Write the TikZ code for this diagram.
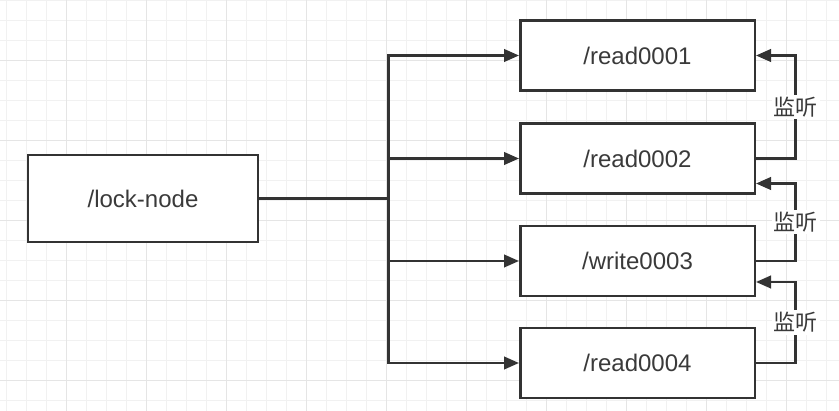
\documentclass[tikz,border=0pt]{standalone}
\usepackage{fontspec}
\setmainfont{Liberation Sans}
\newfontfamily\cjkfont{Noto Sans CJK SC}
\usetikzlibrary{arrows.meta,calc}

\definecolor{ink}{HTML}{333333}
\definecolor{label}{HTML}{3A3A3A}
\definecolor{gridminor}{HTML}{F1F1F1}
\definecolor{gridmajor}{HTML}{E5E5E5}

\tikzset{
  box/.style={draw=ink, line width=2.5pt, fill=white, text=label,
    font=\fontsize{24}{28}\selectfont, inner sep=0pt},
  leafbox/.style={box, minimum width=234.5pt, minimum height=70pt},
  rootbox/.style={box, minimum width=230pt, minimum height=87pt},
  wire/.style={draw=ink, line width=2.5pt},
  arrowwire/.style={wire, -{Triangle[length=15pt,width=12.5pt]}},
  watchlabel/.style={fill=white, text=label, inner sep=2pt,
    font=\cjkfont\fontsize{22}{26}\selectfont}
}

\begin{document}
\begin{tikzpicture}[x=1pt, y=-1pt]
  \useasboundingbox (0,0) rectangle (839,411);
  \fill[white] (0,0) rectangle (839,411);

  % background grid: minor lines every 20, major every 80
  \foreach \gx in {6,26,...,830} {
    \draw[gridminor, line width=1pt] (\gx,0) -- (\gx,411);
  }
  \foreach \gy in {1,21,...,410} {
    \draw[gridminor, line width=1pt] (0,\gy) -- (839,\gy);
  }
  \foreach \gx in {66,146,...,830} {
    \draw[gridmajor, line width=1pt] (\gx,0) -- (\gx,411);
  }
  \foreach \gy in {61,141,...,410} {
    \draw[gridmajor, line width=1pt] (0,\gy) -- (839,\gy);
  }

  % nodes
  \node[rootbox] (lock) at (143,198.5) {/lock-node};
  \node[leafbox] (r1) at (637.5,55.5) {/read0001};
  \node[leafbox] (r2) at (637.5,158.5) {/read0002};
  \node[leafbox] (w3) at (637.5,261) {/write0003};
  \node[leafbox] (r4) at (637.5,363) {/read0004};

  % fan-out from the parent node
  \coordinate (split) at (388.5,198.5);
  \draw[wire] (lock.east) -- (split);
  \draw[arrowwire] (split) |- (r1.west);
  \draw[arrowwire] (split) |- (r2.west);
  \draw[arrowwire] (split) |- (w3.west);
  \draw[arrowwire] (split) |- (r4.west);

  % each child watches the one before it
  \draw[arrowwire] (r2.east) -- ++(39.5,0)
    |- node[pos=0.25, watchlabel] {监听} (r1.east);
  \draw[arrowwire] (w3.east) -- ++(39.5,0)
    |- node[pos=0.25, watchlabel] {监听} ([yshift=-25pt]r2.east);
  \draw[arrowwire] (r4.east) -- ++(39.5,0)
    |- node[pos=0.25, watchlabel] {监听} ([yshift=-21pt]w3.east);
\end{tikzpicture}
\end{document}
